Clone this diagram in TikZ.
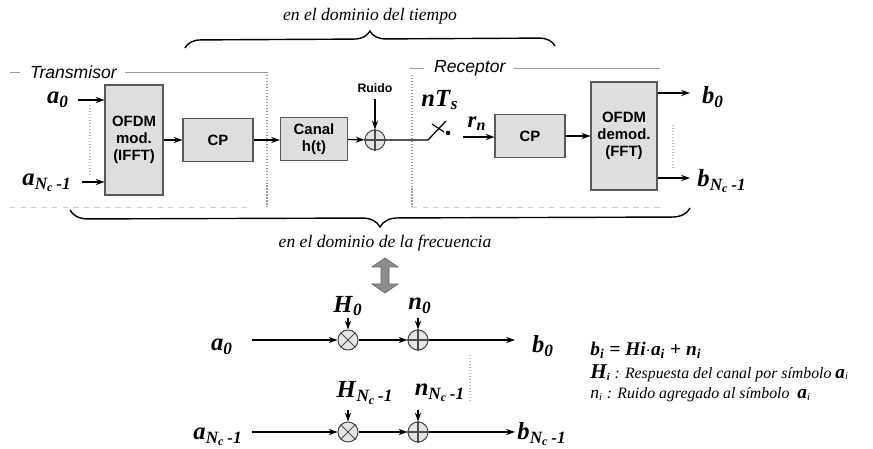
\documentclass[tikz,border=0pt]{standalone}
\usepackage{fontspec}
\setmainfont{Liberation Serif}
\setsansfont{Liberation Sans}
\usetikzlibrary{arrows.meta,decorations.pathreplacing}
\newcommand{\mylbl}[2]{\textbf{\textit{#1}}\textsubscript{\textbf{\textit{#2}}}}
\newcommand{\Nc}{N\textsubscript{c}\,-1}
\begin{document}
\begin{tikzpicture}[x=0.02cm,y=-0.02cm,
  >={Stealth[length=5pt,width=3.5pt]},
  conn/.style={->,line width=0.7pt},
  wire/.style={line width=0.7pt},
  blk/.style={draw=black!65,line width=0.6pt,fill=black!13,font=\sffamily\bfseries\fontsize{8.5}{9.5}\selectfont,align=center,inner sep=0pt},
  sumc/.style={circle,draw=black!70,fill=black!10,minimum size=0.4cm,inner sep=0pt,line width=0.6pt},
  sym/.style={font=\fontsize{14}{16}\selectfont,inner sep=1pt},
  frameh/.style={draw=black!40,line width=0.5pt},
  framev/.style={draw=black!40,line width=0.7pt,densely dotted},
  brc/.style={decorate,line width=0.8pt},
  ttl/.style={font=\itshape},
  fnote/.style={font=\sffamily\itshape\fontsize{10}{12}\selectfont,inner sep=1pt}
]
\useasboundingbox (0,0) rectangle (873,449);

% top text and brace
\node[ttl] (tdom) at (370,16) {en el dominio del tiempo};
\coordinate (tb1) at (185,48);
\coordinate (tb2) at (555,46);
\draw[brc,decoration={brace,amplitude=0.32cm}] (tb1) -- (tb2);

% frames
\node[fnote,anchor=west] (tx) at (28,72) {Transmisor};
\coordinate (txl) at (10,72);
\coordinate (txr) at (267,72);
\coordinate (txb) at (267,207);
\coordinate (txbl) at (10,207);
\draw[frameh] (txl) -- ++(10,0);
\draw[frameh] (tx.east) ++(6,0) -- (txr);
\draw[framev] (txr) -- (txb);
\draw[frameh,dashed,draw=black!20] (txbl) -- (250,207);

\node[fnote,anchor=west] (rx) at (432,68) {Receptor};
\coordinate (rxl) at (410,68);
\coordinate (rxr) at (660,68);
\coordinate (rxv) at (412,75);
\coordinate (rxvb) at (412,207);
\draw[frameh] (rxl) -- ++(14,0);
\draw[frameh] (rx.east) ++(6,0) -- (rxr);
\draw[framev] (rxv) -- (rxvb);
\draw[frameh,dashed,draw=black!20] (rxvb) -- (660,207);
\coordinate (dv1) at (90,105);
\coordinate (dv2) at (90,175);
\draw[framev,draw=black!25] (dv1) -- (dv2);
\coordinate (dv3) at (673,125);
\coordinate (dv4) at (673,168);
\draw[framev,draw=black!25] (dv3) -- (dv4);

% blocks
\node[blk,minimum width=1.16cm,minimum height=2.2cm] (mod) at (134,140) {OFDM\\mod.\\(IFFT)};
\node[blk,minimum width=1.4cm,minimum height=0.86cm] (cp1) at (218,140) {CP};
\node[blk,minimum width=1.34cm,minimum height=0.86cm] (can) at (314,139) {Canal\\h(t)};
\node[sumc] (add) at (375,140) {};
\draw[black!70,line width=0.6pt] (add.north) -- (add.south) (add.west) -- (add.east);
\node[blk,minimum width=1.4cm,minimum height=0.86cm] (cp2) at (530,136) {CP};
\node[blk,minimum width=1.32cm,minimum height=2.16cm] (dem) at (624,136) {OFDM\\demod.\\(FFT)};

% inputs
\node[sym] (a0) at (58,100) {\mylbl{a}{0}};
\node[sym] (aN) at (47,183) {\mylbl{a}{\Nc}};
\coordinate (a0in) at (78,100);
\coordinate (aNin) at (82,182);
\draw[conn] (a0in) -- (a0in -| mod.west);
\draw[conn] (aNin) -- (aNin -| mod.west);

\draw[conn] (mod) -- (cp1);
\draw[conn] (cp1) -- (can.west |- cp1);
\draw[conn] (can) -- (add);

% noise
\node[font=\sffamily\bfseries\scriptsize] (ruido) at (375,88) {Ruido};
\draw[conn] (ruido) -- (add);

% switch
\coordinate (sw1) at (428,140);
\coordinate (sw2) at (446,121);
\coordinate (swdot) at (448,133);
\draw[wire] (add) -- (sw1) -- (sw2);
\coordinate (swx1) at (432,124);
\coordinate (swx2) at (444,132);
\draw[wire] (swx1) -- (swx2);
\fill (swdot) circle (1.3pt);
\node[sym] (nts) at (440,100) {\textbf{\textit{nT}}\textsubscript{\textbf{\textit{s}}}};
\node[sym,font=\fontsize{13}{15}\selectfont] (rn) at (477,124) {\mylbl{r}{n}};
\coordinate (rnin) at (463,137);
\draw[conn] (rnin) -- (rnin -| cp2.west);
\draw[conn] (cp2) -- (dem.west |- cp2);

% outputs
\coordinate (o0) at (690,93);
\coordinate (oN) at (690,178);
\draw[conn] (o0 -| dem.east) -- (o0);
\draw[conn] (oN -| dem.east) -- (oN);
\node[sym] (b0) at (713,97) {\mylbl{b}{0}};
\node[sym] (bN) at (722,181) {\mylbl{b}{\Nc}};

% bottom brace
\coordinate (bb1) at (690,208);
\coordinate (bb2) at (70,210);
\draw[brc,decoration={brace,amplitude=0.36cm}] (bb1) -- (bb2);
\node[ttl] (fdom) at (385,243) {en el dominio de la frecuencia};

% double arrow
\fill[black!45,draw=black!60,line width=0.4pt] (385,258) -- (398,267) -- (389,267) -- (389,284) -- (398,284) -- (385,293) -- (372,284) -- (381,284) -- (381,267) -- (372,267) -- cycle;

% frequency-domain model
\node[sumc] (m0) at (348,340) {};
\draw[black!70,line width=0.6pt] (m0.north west) -- (m0.south east) (m0.north east) -- (m0.south west);
\node[sumc] (s0) at (418,340) {};
\draw[black!70,line width=0.6pt] (s0.north) -- (s0.south) (s0.west) -- (s0.east);
\node[sumc] (mN) at (348,432) {};
\draw[black!70,line width=0.6pt] (mN.north west) -- (mN.south east) (mN.north east) -- (mN.south west);
\node[sumc] (sN) at (418,432) {};
\draw[black!70,line width=0.6pt] (sN.north) -- (sN.south) (sN.west) -- (sN.east);

\node[sym] (fa0) at (222,347) {\mylbl{a}{0}};
\node[sym] (faN) at (218,437) {\mylbl{a}{\Nc}};
\node[sym] (fb0) at (543,346) {\mylbl{b}{0}};
\node[sym] (fbN) at (542,434) {\mylbl{b}{\Nc}};
\node[sym] (H0) at (348,306) {\mylbl{H}{0}};
\node[sym] (n0) at (420,306) {\mylbl{n}{0}};
\node[sym] (HN) at (365,393) {\mylbl{H}{\Nc}};
\node[sym] (nN) at (440,393) {\mylbl{n}{\Nc}};

\coordinate (fa0in) at (252,340);
\coordinate (faNin) at (252,432);
\coordinate (fb0o) at (515,340);
\coordinate (fbNo) at (515,432);
\draw[conn] (fa0in) -- (m0);
\draw[conn] (m0) -- (s0);
\draw[conn] (s0) -- (fb0o);
\draw[conn] (faNin) -- (mN);
\draw[conn] (mN) -- (sN);
\draw[conn] (sN) -- (fbNo);
\coordinate (h0t) at (348,318);
\coordinate (n0t) at (418,318);
\coordinate (hNt) at (348,410);
\coordinate (nNt) at (418,410);
\draw[conn] (h0t) -- (m0);
\draw[conn] (n0t) -- (s0);
\draw[conn] (hNt) -- (mN);
\draw[conn] (nNt) -- (sN);
\coordinate (fd1) at (470,355);
\coordinate (fd2) at (470,400);
\draw[framev,draw=black!25] (fd1) -- (fd2);

% equations
\node[anchor=west,inner sep=0pt,font=\fontsize{11}{13}\selectfont\bfseries\itshape] (eq1) at (590,350) {b\textsubscript{i} = Hi$\cdot$a\textsubscript{i} + n\textsubscript{i}};
\node[anchor=west,inner sep=0pt,font=\itshape\fontsize{9}{11}\selectfont] (eq2) at (590,373) {{\fontsize{12}{13}\selectfont\bfseries H}\textsubscript{\bfseries i} : Respuesta del canal por símbolo {\fontsize{11}{13}\selectfont\bfseries a}\textsubscript{i}};
\node[anchor=west,inner sep=0pt,font=\itshape\fontsize{9}{11}\selectfont] (eq3) at (590,395) {{\fontsize{10}{12}\selectfont n}\textsubscript{i} : Ruido agregado al símbolo \ {\fontsize{11}{13}\selectfont\bfseries a}\textsubscript{i}};
\end{tikzpicture}
\end{document}
